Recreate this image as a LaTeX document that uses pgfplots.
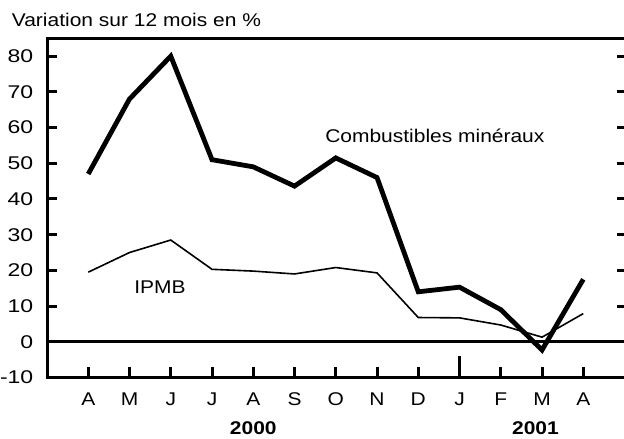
\documentclass[border=0pt]{standalone}
\usepackage{pgfplots}
\pgfplotsset{compat=1.18}
\usepackage{fontspec}
\setmainfont{Liberation Sans}
\begin{document}
\fontsize{18.4}{21}\selectfont
\begin{tikzpicture}[x=1pt,y=1pt]
\begin{axis}[
  at={(47pt,61.5pt)}, anchor=south west,
  scale only axis, width=579.6pt, height=339.2pt,
  xmin=-1, xmax=13.05, ymin=-10, ymax=85,
  clip=false,
  axis line style={line width=3pt},
  every tick/.style={black, line width=3pt},
  major tick length=10pt,
  tick align=inside,
  xtick={0,...,12},
  xticklabels={A,M,J,J,A,S,O,N,D,J,F,M,A},
  xtick pos=lower,
  ytick={-10,0,10,20,30,40,50,60,70,80},
  yticklabels={-10,0,10,20,30,40,50,60,70,80},
  ytick pos=both,
  extra x ticks={9},
  extra x tick labels={},
  extra x tick style={major tick length=21pt, xtick pos=lower},
  xticklabel style={anchor=north, inner sep=0pt, yshift=-15pt, xscale=1.14},
  yticklabel style={anchor=east, inner sep=0pt, xshift=-13.5pt, xscale=1.25},
  every axis plot/.append style={line join=miter},
]
\addplot[black, line width=3pt, forget plot] coordinates {(-1,0) (13.05,0)};
\addplot[black, line width=4.8pt] coordinates {
 (0,47) (1,68) (2,80) (3,51) (4,49) (5,43.6) (6,51.5) (7,46) (8,14) (9,15.3) (10,9) (11,-2.3) (12,17.5)};
\addplot[black, line width=1.6pt] coordinates {
 (0,19.5) (1,25) (2,28.5) (3,20.3) (4,19.8) (5,19) (6,20.8) (7,19.3) (8,6.8) (9,6.7) (10,4.7) (11,1.3) (12,7.9)};
\node[anchor=base west, inner sep=0pt, xscale=1.14] at (axis cs:-1.857,88.3) {Variation sur 12 mois en \%};
\node[anchor=west, inner sep=0pt, xscale=1.14] at (axis cs:5.74,57.6) {Combustibles minéraux};
\node[anchor=west, inner sep=0pt, xscale=1.14] at (axis cs:1.11,15.2) {IPMB};
\node[inner sep=0pt, xscale=1.14, font=\bfseries] at (axis cs:4,-24.3) {2000};
\node[inner sep=0pt, xscale=1.14, font=\bfseries] at (axis cs:10.84,-24.3) {2001};
\end{axis}
\pgfresetboundingbox
\path[use as bounding box] (0,0) rectangle (624,439);
\end{tikzpicture}
\end{document}
